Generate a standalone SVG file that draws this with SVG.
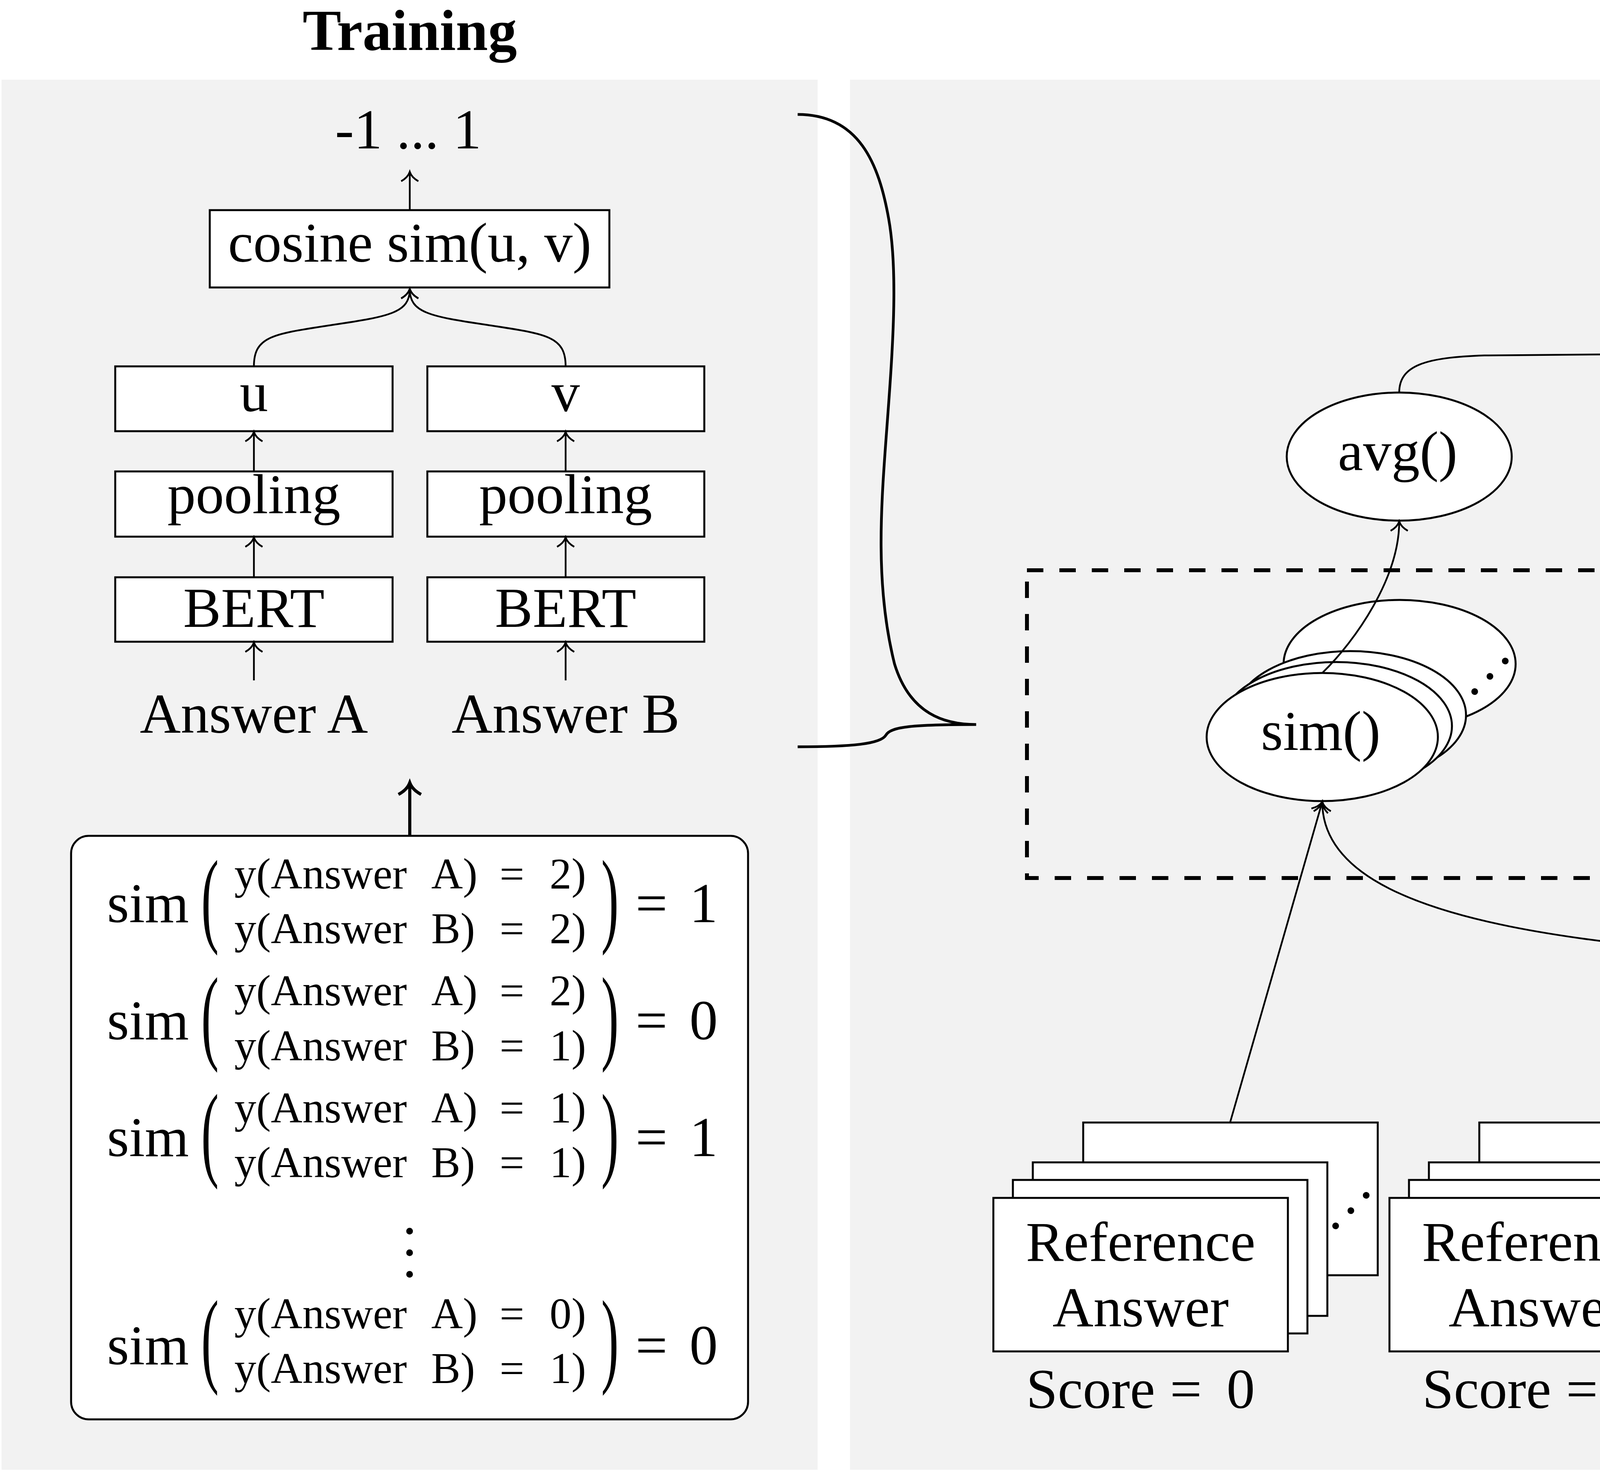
<svg xmlns="http://www.w3.org/2000/svg" width="7029" height="3779" viewBox="0 0 7029 3779">
<defs>
<style>
text{font-family:"Liberation Serif","Times New Roman",serif;fill:#000}
.t{font-size:145px}
.m{text-anchor:middle}
.s{font-size:112px}
.title{font-size:148px;font-weight:bold;text-anchor:middle}
.bg{fill:#f2f2f2}
.box{fill:#fff;stroke:#000;stroke-width:5}
.ln{fill:none;stroke:#000;stroke-width:4.5}
.ar{marker-end:url(#arr)}
.dash{fill:none;stroke:#000;stroke-width:10;stroke-dasharray:42 41}
.brace{fill:none;stroke:#000;stroke-width:7}
</style>
<marker id="arr" markerUnits="userSpaceOnUse" markerWidth="80" markerHeight="80" viewBox="-40 -40 80 80" refX="0" refY="0" orient="auto" overflow="visible">
<path d="M-24,-22 C-16,-8 -6,-2 0,0 C-6,2 -16,8 -24,22" fill="none" stroke="#000" stroke-width="4.5"/>
</marker>
<marker id="arrB" markerUnits="userSpaceOnUse" markerWidth="100" markerHeight="100" viewBox="-50 -50 100 100" refX="0" refY="0" orient="auto" overflow="visible">
<path d="M-30,-29 C-20,-10 -8,-3 0,0 C-8,3 -20,10 -30,29" fill="none" stroke="#000" stroke-width="8"/>
</marker>
</defs>

<g id="backgrounds">
<rect class="bg" x="4" y="204" width="2089" height="3559"/>
<rect class="bg" x="2176" y="204" width="4843" height="3559"/>
</g>

<g id="titles">
<text class="title" x="1049" y="128">Training</text>
<text class="title" x="4598" y="152" style="font-size:152px">Prediction</text>
</g>

<g id="range-output"><text class="t m" x="1045" y="380">-1 ... 1</text></g>
<g id="cosine"><rect class="box" x="537" y="538" width="1023" height="198"/><text class="t m" x="1049" y="670">cosine sim(u, v)</text></g>
<g id="u"><rect class="box" x="295" y="938" width="710" height="166"/><text class="t m" x="650" y="1053">u</text></g>
<g id="v"><rect class="box" x="1094" y="938" width="709" height="166"/><text class="t m" x="1448" y="1053">v</text></g>
<g id="poolingA"><rect class="box" x="295" y="1207" width="710" height="167"/><text class="t m" x="650" y="1314">pooling</text></g>
<g id="poolingB"><rect class="box" x="1094" y="1207" width="709" height="167"/><text class="t m" x="1448" y="1314">pooling</text></g>
<g id="bertA"><rect class="box" x="295" y="1478" width="710" height="165"/><text class="t m" x="650" y="1605">BERT</text></g>
<g id="bertB"><rect class="box" x="1094" y="1478" width="709" height="165"/><text class="t m" x="1448" y="1605">BERT</text></g>
<g id="answerA"><text class="t m" x="650" y="1876">Answer A</text></g>
<g id="answerB"><text class="t m" x="1448" y="1876">Answer B</text></g>

<g id="labels-box">
<rect class="box" x="182" y="2140" width="1733" height="1494" rx="45"/>
<text class="t" x="274" y="2361">sim</text>
<text class="t" transform="translate(515,2389) scale(0.5,1)" style="font-size:270px">(</text>
<text class="s" y="2275"><tspan x="600">y(Answer</tspan><tspan x="1104">A)</tspan><tspan x="1279">=</tspan><tspan x="1407">2)</tspan></text>
<text class="s" y="2415"><tspan x="600">y(Answer</tspan><tspan x="1104">B)</tspan><tspan x="1279">=</tspan><tspan x="1407">2)</tspan></text>
<text class="t" transform="translate(1539,2389) scale(0.5,1)" style="font-size:270px">)</text>
<text class="t" y="2361"><tspan x="1627">=</tspan><tspan x="1765">1</tspan></text>

<text class="t" x="274" y="2661">sim</text>
<text class="t" transform="translate(515,2689) scale(0.5,1)" style="font-size:270px">(</text>
<text class="s" y="2574"><tspan x="600">y(Answer</tspan><tspan x="1104">A)</tspan><tspan x="1279">=</tspan><tspan x="1407">2)</tspan></text>
<text class="s" y="2715"><tspan x="600">y(Answer</tspan><tspan x="1104">B)</tspan><tspan x="1279">=</tspan><tspan x="1407">1)</tspan></text>
<text class="t" transform="translate(1539,2689) scale(0.5,1)" style="font-size:270px">)</text>
<text class="t" y="2661"><tspan x="1627">=</tspan><tspan x="1765">0</tspan></text>

<text class="t" x="274" y="2960">sim</text>
<text class="t" transform="translate(515,2988) scale(0.5,1)" style="font-size:270px">(</text>
<text class="s" y="2874"><tspan x="600">y(Answer</tspan><tspan x="1104">A)</tspan><tspan x="1279">=</tspan><tspan x="1407">1)</tspan></text>
<text class="s" y="3014"><tspan x="600">y(Answer</tspan><tspan x="1104">B)</tspan><tspan x="1279">=</tspan><tspan x="1407">1)</tspan></text>
<text class="t" transform="translate(1539,2988) scale(0.5,1)" style="font-size:270px">)</text>
<text class="t" y="2960"><tspan x="1627">=</tspan><tspan x="1765">1</tspan></text>

<text class="t" transform="translate(1042,3134) rotate(90)" letter-spacing="19">...</text>

<text class="t" x="274" y="3493">sim</text>
<text class="t" transform="translate(515,3516) scale(0.5,1)" style="font-size:270px">(</text>
<text class="s" y="3401"><tspan x="600">y(Answer</tspan><tspan x="1104">A)</tspan><tspan x="1279">=</tspan><tspan x="1407">0)</tspan></text>
<text class="s" y="3541"><tspan x="600">y(Answer</tspan><tspan x="1104">B)</tspan><tspan x="1279">=</tspan><tspan x="1407">1)</tspan></text>
<text class="t" transform="translate(1539,3516) scale(0.5,1)" style="font-size:270px">)</text>
<text class="t" y="3493"><tspan x="1627">=</tspan><tspan x="1765">0</tspan></text>
</g>

<g id="brace">
<path class="brace" d="M2042,293 C2200,293 2250,420 2275,560 C2300,700 2285,900 2270,1100 C2255,1300 2240,1500 2290,1700 C2330,1830 2420,1855 2499,1855 C2340,1855 2280,1860 2268,1882 C2255,1905 2180,1912 2042,1912"/>
</g>

<g id="dashed-group"><rect class="dash" x="2629" y="1460" width="3937" height="788"/></g>

<g id="result"><text class="t m" x="4598" y="397">{0, 1, 2}</text></g>
<g id="argmax"><ellipse class="box" cx="4598" cy="644" rx="459" ry="163"/><text class="t m" x="4598" y="678">argmax()</text></g>
<g id="avg0"><ellipse class="box" cx="3582" cy="1169" rx="288" ry="164"/><text class="t m" x="3578" y="1204">avg()</text></g>
<g id="avg1"><ellipse class="box" cx="4598" cy="1169" rx="288" ry="164"/><text class="t m" x="4594" y="1204">avg()</text></g>
<g id="avg2"><ellipse class="box" cx="5614" cy="1169" rx="288" ry="164"/><text class="t m" x="5610" y="1204">avg()</text></g>

<g id="sim0">
<ellipse class="box" cx="3583" cy="1700" rx="297" ry="164"/>
<text class="t" transform="translate(3767,1788) rotate(-45)" letter-spacing="19">...</text>
<ellipse class="box" cx="3457" cy="1831" rx="296" ry="164"/>
<ellipse class="box" cx="3421" cy="1859" rx="296" ry="164"/>
<ellipse class="box" cx="3385" cy="1887" rx="296" ry="164"/>
<text class="t m" x="3381" y="1920">sim()</text>
</g>
<g id="sim1">
<ellipse class="box" cx="4599" cy="1700" rx="297" ry="164"/>
<text class="t" transform="translate(4783,1788) rotate(-45)" letter-spacing="19">...</text>
<ellipse class="box" cx="4473" cy="1831" rx="296" ry="164"/>
<ellipse class="box" cx="4437" cy="1859" rx="296" ry="164"/>
<ellipse class="box" cx="4401" cy="1887" rx="296" ry="164"/>
<text class="t m" x="4397" y="1920">sim()</text>
</g>
<g id="sim2">
<ellipse class="box" cx="5615" cy="1700" rx="297" ry="164"/>
<text class="t" transform="translate(5799,1788) rotate(-45)" letter-spacing="19">...</text>
<ellipse class="box" cx="5489" cy="1831" rx="296" ry="164"/>
<ellipse class="box" cx="5453" cy="1859" rx="296" ry="164"/>
<ellipse class="box" cx="5417" cy="1887" rx="296" ry="164"/>
<text class="t m" x="5413" y="1920">sim()</text>
</g>

<g id="ref0">
<rect class="box" x="2773" y="2874" width="754" height="391"/>
<text class="t" transform="translate(3411,3156) rotate(-45)" letter-spacing="19">...</text>
<rect class="box" x="2644" y="2976" width="754" height="393"/>
<rect class="box" x="2593" y="3021" width="754" height="393"/>
<rect class="box" x="2543" y="3067" width="754" height="393"/>
<text class="t m" x="2920" y="3228">Reference</text>
<text class="t m" x="2920" y="3396">Answer</text>
<text class="t" y="3605"><tspan x="2627">Score</tspan><tspan x="2995">=</tspan><tspan x="3140">0</tspan></text>
</g>
<g id="ref1">
<rect class="box" x="3787" y="2874" width="754" height="391"/>
<text class="t" transform="translate(4425,3156) rotate(-45)" letter-spacing="19">...</text>
<rect class="box" x="3658" y="2976" width="754" height="393"/>
<rect class="box" x="3607" y="3021" width="754" height="393"/>
<rect class="box" x="3557" y="3067" width="754" height="393"/>
<text class="t m" x="3934" y="3228">Reference</text>
<text class="t m" x="3934" y="3396">Answer</text>
<text class="t" y="3605"><tspan x="3641">Score</tspan><tspan x="4009">=</tspan><tspan x="4154">1</tspan></text>
</g>
<g id="ref2">
<rect class="box" x="4801" y="2874" width="754" height="391"/>
<text class="t" transform="translate(5439,3156) rotate(-45)" letter-spacing="19">...</text>
<rect class="box" x="4672" y="2976" width="754" height="393"/>
<rect class="box" x="4621" y="3021" width="754" height="393"/>
<rect class="box" x="4571" y="3067" width="754" height="393"/>
<text class="t m" x="4948" y="3228">Reference</text>
<text class="t m" x="4948" y="3396">Answer</text>
<text class="t" y="3605"><tspan x="4655">Score</tspan><tspan x="5023">=</tspan><tspan x="5168">2</tspan></text>
</g>
<g id="student">
<rect class="box" x="6024" y="2873" width="754" height="393"/>
<text class="t m" x="6401" y="3032">Student</text>
<text class="t m" x="6401" y="3200">Answer</text>
</g>

<g id="connectors">
<line class="ln ar" x1="1049" y1="538" x2="1049" y2="440"/>
<path class="ln ar" d="M650,938 C650,860 700,855 850,832 C1000,810 1049,800 1049,740"/>
<path class="ln ar" d="M1448,938 C1448,860 1398,855 1248,832 C1098,810 1049,800 1049,740"/>
<line class="ln ar" x1="650" y1="1207" x2="650" y2="1106"/>
<line class="ln ar" x1="1448" y1="1207" x2="1448" y2="1106"/>
<line class="ln ar" x1="650" y1="1478" x2="650" y2="1376"/>
<line class="ln ar" x1="1448" y1="1478" x2="1448" y2="1376"/>
<line class="ln ar" x1="650" y1="1742" x2="650" y2="1645"/>
<line class="ln ar" x1="1448" y1="1742" x2="1448" y2="1645"/>
<line x1="1049" y1="2138" x2="1049" y2="2004" stroke="#000" stroke-width="8" marker-end="url(#arrB)"/>
<path class="ln ar" d="M3582,1005 C3582,935 3650,915 3800,910 L4420,905 C4545,903 4598,880 4598,809"/>
<line class="ln ar" x1="4598" y1="1005" x2="4598" y2="809"/>
<path class="ln ar" d="M5614,1005 C5614,935 5546,915 5396,910 L4776,905 C4651,903 4598,880 4598,809"/>
<path class="ln ar" d="M3386,1722 C3470,1640 3582,1480 3582,1335"/>
<path class="ln ar" d="M4402,1722 C4486,1640 4598,1480 4598,1335"/>
<path class="ln ar" d="M5418,1722 C5502,1640 5614,1480 5614,1335"/>
<line class="ln ar" x1="3149" y1="2874" x2="3385" y2="2053"/>
<line class="ln ar" x1="4163" y1="2874" x2="4401" y2="2053"/>
<line class="ln ar" x1="5177" y1="2874" x2="5417" y2="2053"/>
<path class="ln ar" d="M6401,2873 C6401,2240 3385,2712 3385,2053"/>
<path class="ln ar" d="M6401,2873 C6401,2450 4401,2550 4401,2053"/>
<path class="ln ar" d="M6401,2873 C6401,2613 5417,2313 5417,2053"/>
</g>
</svg>
